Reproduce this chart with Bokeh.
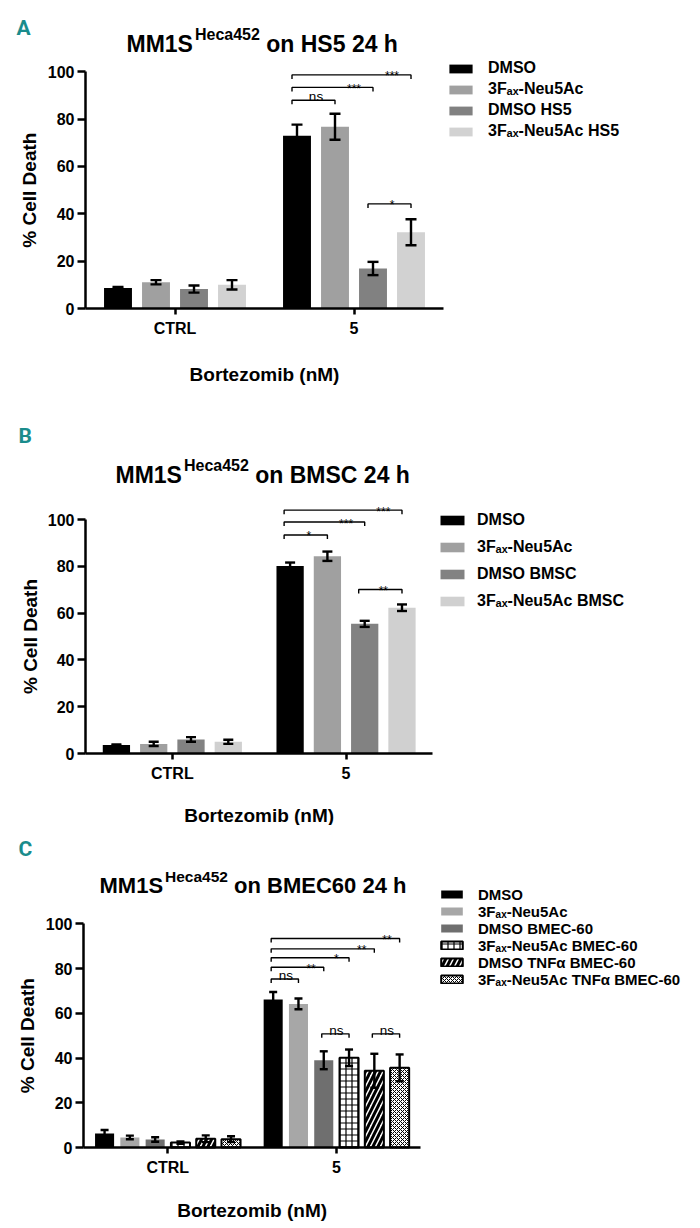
import math
from bokeh.plotting import figure
from bokeh.models import Range1d, FixedTicker, Label, Whisker, TeeHead, ColumnDataSource
from bokeh.layouts import column
from bokeh.embed import file_html
from bokeh.resources import INLINE
from bokeh.core.properties import value

FONT = "Liberation Sans"
TEAL = "#1a8c8c"

groups = ["CTRL", "5"]
y_ticks = [0, 20, 40, 60, 80, 100]

# ---------------- Panel A ----------------
series_a = ["DMSO", "3Fₐₓ-Neu5Ac", "DMSO HS5", "3Fₐₓ-Neu5Ac HS5"]
ctrl_a = [8.7, 11.1, 8.2, 10.0]
bz5_a = [73.0, 76.8, 16.9, 32.2]
ctrl_err_a = [0.4, 0.9, 1.5, 2.0]
bz5_err_a = [4.7, 5.5, 2.8, 5.5]
sig_pairs_a = [(0, 1), (0, 2), (0, 3), (2, 3)]
sig_text_a = ["ns", "***", "***", "*"]
sig_level_a = [88.0, 93.4, 98.7, 44.2]

# ---------------- Panel B ----------------
series_b = ["DMSO", "3Fₐₓ-Neu5Ac", "DMSO BMSC", "3Fₐₓ-Neu5Ac BMSC"]
ctrl_b = [3.6, 4.1, 6.0, 5.0]
bz5_b = [80.1, 84.3, 55.4, 62.3]
ctrl_err_b = [0.3, 0.9, 1.0, 0.9]
bz5_err_b = [1.5, 2.0, 1.3, 1.4]
sig_pairs_b = [(0, 1), (0, 2), (0, 3), (2, 3)]
sig_text_b = ["*", "***", "***", "**"]
sig_level_b = [93.4, 98.9, 104.0, 70.1]

# ---------------- Panel C ----------------
series_c = ["DMSO", "3Fₐₓ-Neu5Ac", "DMSO BMEC-60", "3Fₐₓ-Neu5Ac BMEC-60",
            "DMSO TNFα BMEC-60", "3Fₐₓ-Neu5Ac TNFα BMEC-60"]
ctrl_c = [6.3, 4.5, 3.6, 2.2, 3.9, 3.7]
bz5_c = [66.2, 64.2, 39.0, 40.1, 34.3, 35.6]
ctrl_err_c = [1.5, 0.8, 1.0, 0.5, 1.5, 1.3]
bz5_err_c = [3.3, 2.4, 4.0, 3.7, 7.6, 6.0]
sig_pairs_c = [(0, 1), (0, 2), (0, 3), (0, 4), (0, 5), (2, 3), (4, 5)]
sig_text_c = ["ns", "**", "*", "**", "**", "ns", "ns"]
sig_level_c = [75.3, 80.6, 84.8, 88.8, 93.4, 50.8, 50.8]

# ---------------- styles ----------------
def solid(c):
    return dict(fill_color=c, line_color=None)

def hatched(pat, scale, weight):
    return dict(fill_color="white", line_color="black", line_width=2,
                hatch_pattern=pat, hatch_scale=scale, hatch_weight=weight,
                hatch_color="black")

styles_a = [solid("#000000"), solid("#a0a0a0"), solid("#818181"), solid("#d2d2d2")]
styles_b = [solid("#000000"), solid("#a0a0a0"), solid("#828282"), solid("#d0d0d0")]
styles_c = [solid("#000000"), solid("#a7a7a7"), solid("#6f6f6f"),
            hatched("cross", 6, 1.2), hatched("right_diagonal_line", 10, 3.0),
            hatched("diagonal_cross", 4, 1.0)]

# advance widths (em) of Liberation Sans Bold, used to lay out the title pieces
ADV = {"M": 0.833, "1": 0.556, "S": 0.667, "H": 0.722, "e": 0.556, "c": 0.556,
       "a": 0.556, "4": 0.556, "5": 0.556, "2": 0.556, " ": 0.278}

def text_w(s, size):
    return sum(ADV.get(ch, 0.6) for ch in s) * size

# layout (page pixels of the 700x1228 page)
cfg_a = dict(fig_top=0, height=400, axis_x=85, axis_y=308, ppu_x=179.0, ppu_y=2.367,
             step=0.2123, bar_w=0.156, cap=11, shift=5,
             title_base=43, title_x=126, title_size=23, sup_size=16, letter=(16, 27),
             ylab_x=29, xlab_base=374,
             leg_x=446, leg_first=68, leg_lh=20, leg_sp=1,
             glyph=(29, 11), standoff=13, leg_font="16px")
cfg_b = dict(fig_top=400, height=425, axis_x=85, axis_y=753, ppu_x=173.7, ppu_y=2.34,
             step=0.2147, bar_w=0.157, cap=10, shift=6,
             title_base=474, title_x=115, title_size=23, sup_size=16, letter=(18, 435),
             ylab_x=30, xlab_base=815,
             leg_x=437, leg_first=519.5, leg_lh=24, leg_sp=3,
             glyph=(30, 12), standoff=10, leg_font="16px")
cfg_c = dict(fig_top=825, height=403, axis_x=83, axis_y=1147, ppu_x=168.6, ppu_y=2.237,
             step=0.150, bar_w=0.113, cap=8, shift=2,
             title_base=885, title_x=99, title_size=22, sup_size=15.5, letter=(18, 848),
             ylab_x=27, xlab_base=1210,
             leg_x=438, leg_first=894, leg_lh=17, leg_sp=0,
             glyph=(27, 10), standoff=13, leg_font="15px")


def build(cfg, letter, title_rest, series, ctrl, bz5, ctrl_err, bz5_err,
          pairs, texts, levels, styles):
    H = cfg["height"]
    top0 = cfg["fig_top"]
    ax_x = cfg["axis_x"]
    ax_y = cfg["axis_y"]
    ppu_x = cfg["ppu_x"]
    ppu_y = cfg["ppu_y"]
    W = 700

    def X(px):
        return (px - ax_x) / ppu_x

    def Y(py):
        return (ax_y - py) / ppu_y

    p = figure(width=W, height=H,
               x_range=Range1d(X(0), X(W)), y_range=Range1d(Y(top0 + H), Y(top0)),
               output_backend="svg", toolbar_location=None, tools="", title=None,
               min_border=0, min_border_left=0, min_border_right=0,
               min_border_top=0, min_border_bottom=0)
    p.outline_line_color = None
    p.grid.visible = False
    p.background_fill_color = "white"
    p.border_fill_color = "white"

    n = len(series)
    centers = []
    for k in range(n):
        xs = [g + 0.5 + (k - (n - 1) / 2.0) * cfg["step"] for g in range(len(groups))]
        centers.append(xs)
        p.vbar(x=xs, top=[ctrl[k], bz5[k]], width=cfg["bar_w"],
               legend_label=series[k], **styles[k])

    base, lo, up = [], [], []
    for k in range(n):
        for g, (m, e) in enumerate([(ctrl[k], ctrl_err[k]), (bz5[k], bz5_err[k])]):
            base.append(centers[k][g])
            lo.append(m - e)
            up.append(m + e)
    src = ColumnDataSource(dict(base=base, lower=lo, upper=up))
    wk = Whisker(source=src, base="base", lower="lower", upper="upper",
                 dimension="height", level="overlay", line_width=2.4,
                 line_color="black",
                 upper_head=TeeHead(size=cfg["cap"], line_width=2.4, line_color="black"),
                 lower_head=TeeHead(size=cfg["cap"], line_width=2.4, line_color="black"))
    p.add_layout(wk)

    # significance brackets (all in the "5" group)
    drop = 4.0 / ppu_y
    shift = cfg["shift"] / ppu_x
    bxs, bys = [], []
    ns_x, ns_y, ns_t, st_x, st_y, st_t = [], [], [], [], [], []
    for (i, j), txt, lev in zip(pairs, texts, levels):
        x1 = centers[i][1] - shift
        x2 = centers[j][1]
        bxs.append([x1, x1, x2, x2])
        bys.append([lev - drop, lev, lev, lev - drop])
        xm = (centers[j - 1][1] + centers[j][1]) / 2.0
        if txt == "ns":
            ns_x.append(xm); ns_y.append(lev + 3.5 / ppu_y); ns_t.append(txt)
        else:
            st_x.append(xm); st_y.append(lev - 1.5 / ppu_y); st_t.append(txt)
    p.multi_line(bxs, bys, line_color="black", line_width=1.4)
    if ns_t:
        p.text(x=ns_x, y=ns_y, text=ns_t, text_font=value(FONT), text_font_size="13.5px",
               text_align="center", text_baseline="alphabetic", text_color="black")
    if st_t:
        p.text(x=st_x, y=st_y, text=st_t, text_font=value(FONT), text_font_size="12px",
               text_align="center", text_baseline="alphabetic", text_color="black")

    # axes, drawn at the data origin
    ticks = [g + 0.5 for g in range(len(groups))]
    p.xaxis.ticker = FixedTicker(ticks=ticks)
    p.xaxis.major_label_overrides = {t: g for t, g in zip(ticks, groups)}
    p.xaxis.fixed_location = 0
    p.xaxis.bounds = (0, len(groups))
    p.yaxis.ticker = FixedTicker(ticks=y_ticks)
    p.yaxis.fixed_location = 0
    p.yaxis.bounds = (0, 100)
    for ax in (p.xaxis[0], p.yaxis[0]):
        ax.axis_line_width = 2.5
        ax.axis_line_color = "black"
        ax.major_tick_line_width = 2.5
        ax.major_tick_line_color = "black"
        ax.major_tick_in = 0
        ax.minor_tick_line_color = None
        ax.major_label_text_font = FONT
        ax.major_label_text_font_style = "bold"
        ax.major_label_text_font_size = "16px"
        ax.major_label_text_color = "black"
    p.yaxis.major_tick_out = 8
    p.yaxis.major_label_standoff = 3
    p.xaxis.major_tick_out = 6
    p.xaxis.major_label_standoff = 5

    # axis titles
    p.add_layout(Label(x=len(groups) / 2.0, y=Y(cfg["xlab_base"]), text="Bortezomib (nM)",
                       text_align="center", text_baseline="alphabetic", text_font=FONT,
                       text_font_style="bold", text_font_size="19px", text_color="black"))
    p.add_layout(Label(x=X(cfg["ylab_x"]), y=50, text="% Cell Death", angle=math.pi / 2,
                       text_align="center", text_baseline="middle", text_font=FONT,
                       text_font_style="bold", text_font_size="19px", text_color="black"))

    # title pieces: "MM1S" + superscript "Heca452" + rest
    tb = cfg["title_base"]
    ts, ss = cfg["title_size"], cfg["sup_size"]
    x0 = cfg["title_x"]
    x1 = x0 + text_w("MM1S", ts) + 2
    x2 = x1 + text_w("Heca452", ss) + text_w(" ", ts)
    p.add_layout(Label(x=X(x0), y=Y(tb), text="MM1S", text_font=FONT,
                       text_font_style="bold", text_font_size=f"{ts}px",
                       text_baseline="alphabetic", text_color="black"))
    p.add_layout(Label(x=X(x1), y=Y(tb - 9), text="Heca452", text_font=FONT,
                       text_font_style="bold", text_font_size=f"{ss}px",
                       text_baseline="alphabetic", text_color="black"))
    p.add_layout(Label(x=X(x2), y=Y(tb), text=title_rest, text_font=FONT,
                       text_font_style="bold", text_font_size=f"{ts}px",
                       text_baseline="alphabetic", text_color="black"))
    # panel letter
    lx, ly = cfg["letter"]
    p.add_layout(Label(x=X(lx), y=Y(ly), text=letter, text_font="Roboto",
                       text_font_style="bold", text_font_size="21px",
                       text_baseline="alphabetic", text_color=TEAL))

    # legend (frame = whole figure, location from its bottom-left corner)
    lg = p.legend[0]
    lh, sp = cfg["leg_lh"], cfg["leg_sp"]
    leg_h = n * lh + (n - 1) * sp
    top = cfg["leg_first"] - lh / 2.0 - top0
    lg.location = (cfg["leg_x"], H - (top + leg_h))
    lg.padding = 0
    lg.margin = 0
    lg.spacing = sp
    lg.label_height = lh
    lg.glyph_width, lg.glyph_height = cfg["glyph"]
    lg.label_standoff = cfg["standoff"]
    lg.border_line_color = None
    lg.background_fill_alpha = 0
    lg.label_text_font = FONT
    lg.label_text_font_style = "bold"
    lg.label_text_font_size = cfg["leg_font"]
    lg.label_text_color = "black"
    return p


pa = build(cfg_a, "A", "on HS5 24 h", series_a, ctrl_a, bz5_a, ctrl_err_a, bz5_err_a,
           sig_pairs_a, sig_text_a, sig_level_a, styles_a)
pb = build(cfg_b, "B", "on BMSC 24 h", series_b, ctrl_b, bz5_b, ctrl_err_b, bz5_err_b,
           sig_pairs_b, sig_text_b, sig_level_b, styles_b)
pc = build(cfg_c, "C", "on BMEC60 24 h", series_c, ctrl_c, bz5_c, ctrl_err_c, bz5_err_c,
           sig_pairs_c, sig_text_c, sig_level_c, styles_c)

layout = column(pa, pb, pc, spacing=0)
open("out.html", "w").write(file_html(layout, INLINE))
